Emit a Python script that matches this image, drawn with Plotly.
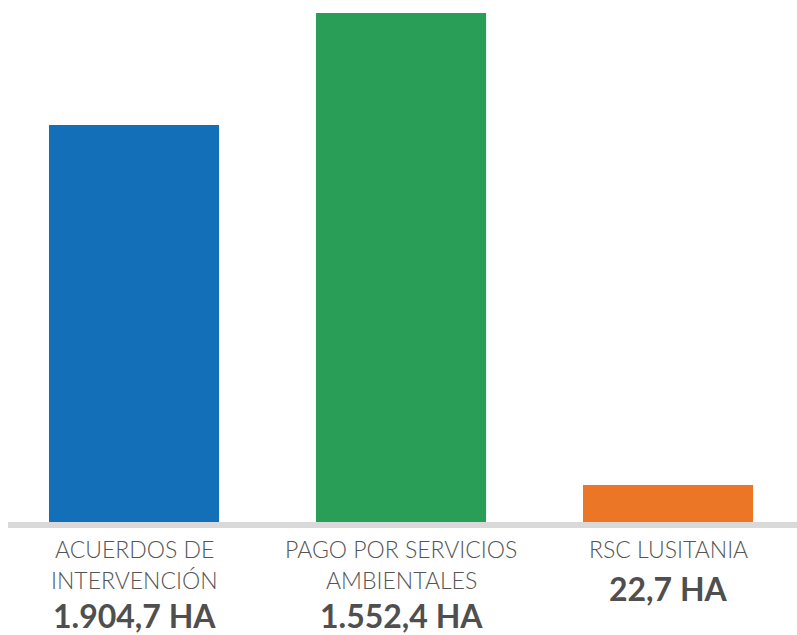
import plotly.graph_objects as go

categories = ["ACUERDOS DE<br>INTERVENCIÓN", "PAGO POR SERVICIOS<br>AMBIENTALES", "RSC LUSITANIA"]
cat_lines = [["ACUERDOS DE", "INTERVENCIÓN"], ["PAGO POR SERVICIOS", "AMBIENTALES"], ["RSC LUSITANIA"]]
value_labels = ["1.904,7 HA", "1.552,4 HA", "22,7 HA"]
bar_heights = [397, 509, 37]  # relative bar heights as drawn
colors = ["#136fb8", "#299e56", "#eb7726"]

x = list(range(len(categories)))

fig = go.Figure()
fig.add_trace(go.Bar(x=x, y=bar_heights, marker=dict(color=colors, line=dict(width=0)),
                     width=0.637, hoverinfo="skip"))

annotations = []
for i, lines in enumerate(cat_lines):
    for j, ln in enumerate(lines):
        annotations.append(dict(x=i, y=0, xref="x", yref="paper", text=ln, showarrow=False,
                                yanchor="middle", xanchor="center", yshift=-(27 + 31 * j),
                                font=dict(family="Lato", size=23, weight=300, color="#555555")))
    extra = 4 if len(lines) > 1 else 8
    annotations.append(dict(x=i, y=0, xref="x", yref="paper", text="<b>%s</b>" % value_labels[i],
                            showarrow=False, yanchor="middle", xanchor="center",
                            yshift=-(27 + 31 * len(lines) + extra),
                            font=dict(family="Lato", size=32, color="#4f4f4f")))

fig.update_layout(
    width=797, height=635,
    margin=dict(l=8, r=0, t=0, b=113),
    paper_bgcolor="white", plot_bgcolor="white",
    showlegend=False,
    xaxis=dict(range=[-0.472, 2.483], showticklabels=False, ticks="", showgrid=False,
               zeroline=False, showline=True, linecolor="#d9d9d9", linewidth=6),
    yaxis=dict(range=[0, 522], visible=False, showgrid=False, zeroline=False),
    annotations=annotations,
)

fig.write_html("out.html", config={"displayModeBar": False},
               post_script="document.body.style.margin='0';document.documentElement.style.overflow='hidden';")
